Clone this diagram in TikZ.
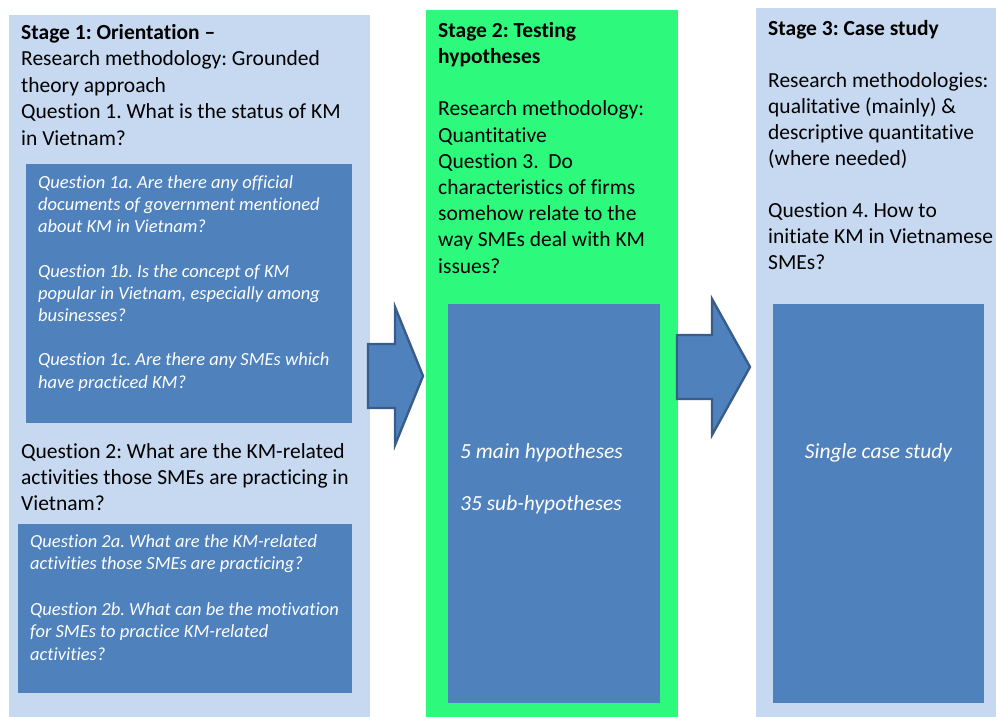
\documentclass[tikz,border=0pt]{standalone}
\usepackage{fontspec}
\setmainfont{Carlito}[Ligatures=NoCommon]
\frenchspacing
\definecolor{panelblue}{RGB}{198,217,241}
\definecolor{panelgreen}{RGB}{45,250,125}
\definecolor{innerblue}{RGB}{79,129,189}
\definecolor{arrowline}{RGB}{56,93,138}
% text blocks are placed by the baseline of their last line
\tikzset{
  inner/.style={fill=innerblue,draw=none},
  bodytext/.style={anchor=base west,inner sep=0pt,align=left,text=black,
    font=\fontsize{21.5}{26.2}\selectfont},
  qtext/.style={anchor=base west,inner sep=0pt,align=left,text=white,
    font=\fontsize{18.5}{22.2}\selectfont\itshape},
  hyptext/.style={inner sep=0pt,align=left,text=white,
    font=\fontsize{21.5}{26}\selectfont\itshape},
  blockarrow/.style={fill=innerblue,draw=arrowline,line width=2.4pt,line join=miter},
}
\begin{document}
\begin{tikzpicture}[x=1pt,y=-1pt]
\useasboundingbox (0,0) rectangle (996,717);

% stage panels
\fill[panelblue]  (9,15)   rectangle (370,717);
\fill[panelgreen] (426,10) rectangle (678,717);
\fill[panelblue]  (756,8)  rectangle (996,717);

% inner boxes
\fill[inner] (26,164)  rectangle (352,423);
\fill[inner] (18,524)  rectangle (352,693);
\fill[inner] (448,304) rectangle (660,703);
\fill[inner] (773,304) rectangle (984,703);

% block arrows between the stages
\draw[blockarrow] (368,344) -- (395,344) -- (395,307) -- (423,376)
  -- (395,445) -- (395,408) -- (368,408) -- cycle;
\draw[blockarrow] (677,335) -- (712,335) -- (712,299) -- (750,367)
  -- (712,435) -- (712,399) -- (677,399) -- cycle;

% stage 1
\node[bodytext,font=\fontsize{21.5}{26.5}\selectfont] (s1) at (21,145) {\textbf{Stage 1: Orientation –}\\
  Research methodology: Grounded\\
  theory approach\\
  Question 1. What is the status of KM\\
  in Vietnam?};
\node[qtext] (q1) at (38,388) {Question 1a. Are there any official\\
  documents of government mentioned\\
  about KM in Vietnam?\\[22.2pt]
  Question 1b. Is the concept of KM\\
  popular in Vietnam, especially among\\
  businesses?\\[22.2pt]
  Question 1c. Are there any SMEs which\\
  have practiced KM?};
\node[bodytext,font=\fontsize{21.5}{26}\selectfont] (s1b) at (21,510) {Question 2: What are the KM-related\\
  activities those SMEs are practicing in\\
  Vietnam?};
\node[qtext] (q2) at (30,660) {Question 2a. What are the KM-related\\
  activities those SMEs are practicing?\\[24pt]
  Question 2b. What can be the motivation\\
  for SMEs to practice KM-related\\
  activities?};

% stage 2
\node[bodytext] (s2) at (438,273) {\textbf{Stage 2: Testing}\\
  \textbf{hypotheses}\\[26.2pt]
  Research methodology:\\
  Quantitative\\
  Question 3.\ \ Do\\
  characteristics of firms\\
  somehow relate to the\\
  way SMEs deal with KM\\
  issues?};
\node[hyptext,anchor=base west] (h2) at (460,510) {5 main hypotheses\\[26pt]
  35 sub-hypotheses};

% stage 3
\node[bodytext,font=\fontsize{21.5}{26}\selectfont] (s3) at (768,269) {\textbf{Stage 3: Case study}\\[26pt]
  Research methodologies:\\
  qualitative (mainly) \&\\
  descriptive quantitative\\
  (where needed)\\[26pt]
  Question 4. How to\\
  initiate KM in Vietnamese\\
  SMEs?};
\node[hyptext,anchor=base] (h3) at (878.5,458) {Single case study};
\end{tikzpicture}
\end{document}
